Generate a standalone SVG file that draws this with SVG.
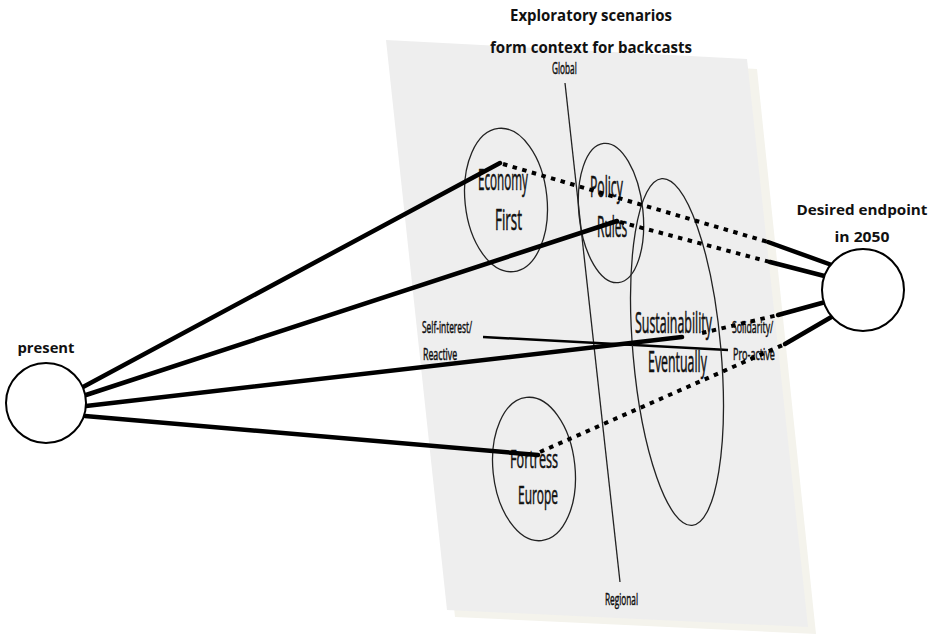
<svg xmlns="http://www.w3.org/2000/svg" width="938" height="640" viewBox="0 0 938 640">
<defs>
<style>
.title{font-family:"Open Sans","Liberation Sans",sans-serif;font-weight:bold;font-size:16px;fill:#111}
.big{font-family:"Open Sans","Liberation Sans",sans-serif;font-size:29px;fill:#111;stroke:#111;stroke-width:0.6}
.small{font-family:"Open Sans","Liberation Sans",sans-serif;font-size:16px;fill:#111;stroke:#111;stroke-width:0.5}
.ell{fill:none;stroke:#222;stroke-width:1.3}
.solid{stroke:#000;stroke-width:4.5;fill:none;stroke-linecap:round}
.dot{stroke:#000;stroke-width:4;fill:none;stroke-dasharray:4.5 5.5}
.node{fill:#fff;stroke:#000;stroke-width:2}
</style>
</defs>
<rect width="938" height="640" fill="#fff"/>
<g id="panel">
<polygon points="396,48 757,69 816,634 455,617" fill="#f4f3ec"/>
<polygon points="386,40 747,59 808,627 447,610" fill="#eeeeee"/>
</g>
<g id="axes">
<line x1="565" y1="83" x2="620" y2="582" stroke="#222" stroke-width="1.3"/>
<line x1="483" y1="337" x2="728" y2="350" stroke="#000" stroke-width="2.5"/>
<text class="small" transform="translate(552 74) scale(0.55 1)" textLength="45" lengthAdjust="spacingAndGlyphs">Global</text>
<text class="small" transform="translate(605 605) scale(0.55 1)" textLength="60" lengthAdjust="spacingAndGlyphs">Regional</text>
<text class="small" transform="translate(422 333) scale(0.55 1)" textLength="91" lengthAdjust="spacingAndGlyphs">Self-interest/</text>
<text class="small" transform="translate(423 360) scale(0.55 1)" textLength="62" lengthAdjust="spacingAndGlyphs">Reactive</text>
<text class="small" transform="translate(732 333) scale(0.55 1)" textLength="75" lengthAdjust="spacingAndGlyphs">Solidarity/</text>
<text class="small" transform="translate(733 360) scale(0.55 1)" textLength="76" lengthAdjust="spacingAndGlyphs">Pro-active</text>
</g>
<g id="economy-first">
<ellipse class="ell" cx="506" cy="200" rx="41" ry="72" transform="rotate(-6 506 200)"/>
<text class="big" transform="translate(478 190) scale(0.45 1)" textLength="111" lengthAdjust="spacingAndGlyphs">Economy</text>
<text class="big" transform="translate(495 230) scale(0.45 1)" textLength="60" lengthAdjust="spacingAndGlyphs">First</text>
</g>
<g id="policy-rules">
<ellipse class="ell" cx="611" cy="213" rx="32" ry="70" transform="rotate(-6 611 213)"/>
<text class="big" transform="translate(590 197) scale(0.45 1)" textLength="73" lengthAdjust="spacingAndGlyphs">Policy</text>
<text class="big" transform="translate(597 237) scale(0.45 1)" textLength="67" lengthAdjust="spacingAndGlyphs">Rules</text>
</g>
<g id="sustainability-eventually">
<ellipse class="ell" cx="677" cy="352" rx="44" ry="174" transform="rotate(-5 677 352)"/>
<text class="big" transform="translate(635 333) scale(0.45 1)" textLength="171" lengthAdjust="spacingAndGlyphs">Sustainability</text>
<text class="big" transform="translate(648 372) scale(0.45 1)" textLength="131" lengthAdjust="spacingAndGlyphs">Eventually</text>
</g>
<g id="fortress-europe">
<ellipse class="ell" cx="534" cy="469" rx="41" ry="72" transform="rotate(-6 534 469)"/>
<text class="big" style="font-size:26px" transform="translate(510 468) scale(0.45 1)" textLength="107" lengthAdjust="spacingAndGlyphs">Fortress</text>
<text class="big" style="font-size:26px" transform="translate(518 504) scale(0.45 1)" textLength="89" lengthAdjust="spacingAndGlyphs">Europe</text>
</g>
<g id="connectors">
<line class="solid" x1="83" y1="387" x2="500" y2="163"/>
<line class="solid" x1="86" y1="395" x2="617" y2="221"/>
<line class="solid" x1="86" y1="406" x2="682" y2="337"/>
<line class="solid" x1="85" y1="416" x2="538" y2="455"/>
<line class="dot" x1="503" y1="164" x2="768" y2="242"/>
<line class="dot" x1="620" y1="222" x2="770" y2="262"/>
<line class="dot" x1="702" y1="333" x2="778" y2="315"/>
<line class="dot" x1="540" y1="452" x2="785" y2="344"/>
<line class="solid" x1="768" y1="242" x2="840" y2="268"/>
<line class="solid" x1="770" y1="262" x2="840" y2="280"/>
<line class="solid" x1="778" y1="315" x2="840" y2="298"/>
<line class="solid" x1="785" y1="344" x2="840" y2="312"/>
</g>
<g id="present">
<circle class="node" cx="46" cy="403" r="40"/>
<text class="title" x="46" y="353" text-anchor="middle" textLength="57" lengthAdjust="spacingAndGlyphs" style="font-size:15px">present</text>
</g>
<g id="endpoint">
<circle class="node" cx="863" cy="290" r="41"/>
<text class="title" x="862" y="215" text-anchor="middle" textLength="131" lengthAdjust="spacingAndGlyphs" style="font-size:15px">Desired endpoint</text>
<text class="title" x="862" y="242" text-anchor="middle" textLength="55" lengthAdjust="spacingAndGlyphs" style="font-size:15px">in 2050</text>
</g>
<g id="title">
<text class="title" x="591" y="21" text-anchor="middle" textLength="162" lengthAdjust="spacingAndGlyphs">Exploratory scenarios</text>
<text class="title" x="591" y="53" text-anchor="middle" textLength="202" lengthAdjust="spacingAndGlyphs">form context for backcasts</text>
</g>
</svg>
